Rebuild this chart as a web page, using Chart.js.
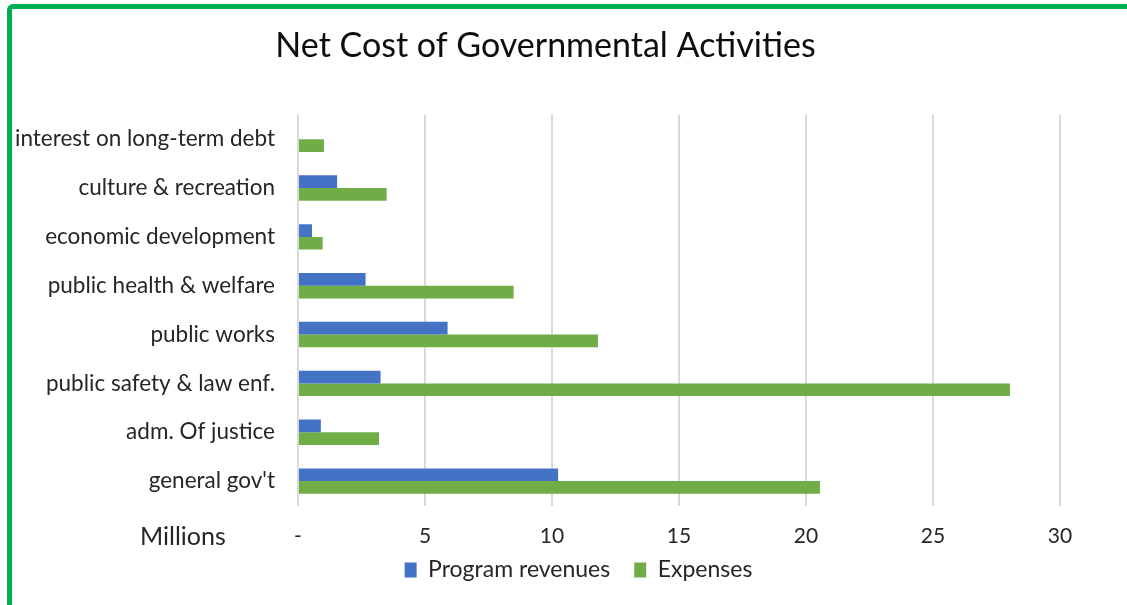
<!DOCTYPE html>
<html><head><meta charset="utf-8">
<script src="https://cdn.jsdelivr.net/npm/chart.js@4"></script>
<style>
html,body{margin:0;padding:0;background:#fff;width:1127px;height:605px;overflow:hidden;}
#frame{position:absolute;left:7px;top:4px;width:1200px;height:700px;border-top:5px solid #00b050;border-left:5px solid #00b050;border-top-left-radius:6px;}
#wrap{position:absolute;left:0;top:0;width:1127px;height:605px;}
</style></head>
<body>
<div id="frame"></div>
<div id="wrap"><canvas id="c" width="1127" height="605"></canvas></div>
<script>
const categories = ["interest on long-term debt","culture & recreation","economic development","public health & welfare","public works","public safety & law enf.","adm. Of justice","general gov't"];
const programRevenues = [0, 1.54, 0.55, 2.66, 5.89, 3.25, 0.9, 10.24];
const expenses = [1.02, 3.49, 0.97, 8.49, 11.81, 28.03, 3.19, 20.55];
const xTicks = [0, 5, 10, 15, 20, 25, 30];
const FONT = "Lato, 'Open Sans', sans-serif";

const extras = {
  id: 'extras',
  afterLayout(chart) {
    const lg = chart.legend;
    if (lg) {
      lg.left += 33; lg.right += 33;
      lg.top -= 13.5; lg.bottom -= 13.5;
    }
  },
  afterDraw(chart) {
    const ctx = chart.ctx, x = chart.scales.x;
    ctx.save();
    ctx.font = "25px " + FONT;
    ctx.fillStyle = "#262626";
    ctx.textAlign = "left";
    ctx.textBaseline = "middle";
    ctx.fillText("Millions", 140, x.top + 31);
    ctx.restore();
  }
};

new Chart(document.getElementById('c'), {
  type: 'bar',
  data: {
    labels: categories,
    datasets: [
      { label: 'Program revenues', data: programRevenues, backgroundColor: '#4472c4', borderWidth: 0 },
      { label: 'Expenses', data: expenses, backgroundColor: '#70ad47', borderWidth: 0 }
    ]
  },
  options: {
    indexAxis: 'y',
    responsive: false,
    animation: false,
    events: [],
    categoryPercentage: 0.52,
    barPercentage: 1.0,
    layout: { padding: { left: 0, right: 36, top: 0, bottom: 0 } },
    plugins: {
      title: {
        display: true,
        text: 'Net Cost of Governmental Activities',
        color: '#0d0d0d',
        font: { family: FONT, size: 34, weight: 'normal' },
        padding: { top: 26, bottom: 48 }
      },
      legend: {
        position: 'bottom',
        labels: {
          color: '#262626',
          font: { family: FONT, size: 23 },
          boxWidth: 12, boxHeight: 15,
          padding: 24
        }
      },
      tooltip: { enabled: false }
    },
    scales: {
      x: {
        min: 0, max: 30,
        afterBuildTicks: s => { s.ticks = xTicks.map(v => ({ value: v })); },
        afterFit: s => { s.height = 42.5; s.paddingLeft = 0; s.paddingRight = 67; },
        grid: { color: '#d9d9d9', lineWidth: 2, drawTicks: false },
        border: { display: false },
        ticks: {
          padding: 18,
          color: '#262626',
          font: { family: FONT, size: 21 },
          callback: v => v === 0 ? '-' : String(v)
        }
      },
      y: {
        afterFit: s => { s.width = 298; },
        grid: { display: false, drawTicks: false },
        border: { display: false },
        ticks: {
          padding: 23,
          color: '#262626',
          font: { family: FONT, size: 22.5 }
        }
      }
    }
  },
  plugins: [extras]
});
</script>
</body></html>
